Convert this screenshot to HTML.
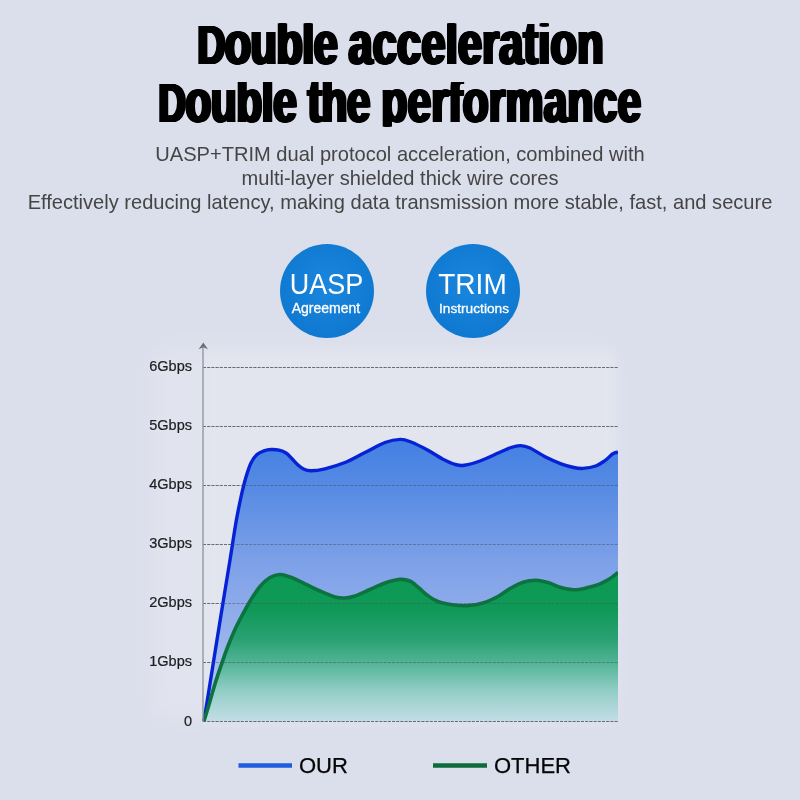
<!DOCTYPE html>
<html lang="en">
<head>
<meta charset="utf-8">
<title>Double acceleration</title>
<style>
html,body{margin:0;padding:0;}
body{width:800px;height:800px;overflow:hidden;position:relative;background:#dbdeeb;font-family:"Liberation Sans",sans-serif;}
svg{position:absolute;left:0;top:0;}
.hl{position:absolute;left:0;top:0;height:60px;font-weight:bold;font-size:61.5px;line-height:60px;color:#000;white-space:nowrap;transform-origin:0 0;clip-path:inset(11px -10px 4.5px -10px);
text-shadow:-0.8px 0 #000,0.8px 0 #000,-1.6px 0 #000,1.6px 0 #000,-2.5px 0 #000,2.5px 0 #000;}
.hl .cap{font-size:55px;}
.sub{position:absolute;left:0;width:800px;text-align:center;font-size:20.08px;line-height:24px;color:#454545;white-space:nowrap;}
</style>
</head>
<body>
<svg width="800" height="800" viewBox="0 0 800 800">
  <defs>
    <linearGradient id="gb" x1="0" y1="0" x2="0" y2="1">
      <stop offset="0" stop-color="#437fe2"/>
      <stop offset="0.2" stop-color="#5a8de4"/>
      <stop offset="0.43" stop-color="#7da0e8"/>
      <stop offset="0.71" stop-color="#98b3ec"/>
      <stop offset="1" stop-color="#c0cef2"/>
    </linearGradient>
    <linearGradient id="gg" x1="0" y1="0" x2="0" y2="1">
      <stop offset="0" stop-color="#0c9a52"/>
      <stop offset="0.25" stop-color="#0f9958"/>
      <stop offset="0.45" stop-color="#2aa173"/>
      <stop offset="0.6" stop-color="#4fb394"/>
      <stop offset="0.8" stop-color="#93cec6"/>
      <stop offset="1" stop-color="#c3dde6"/>
    </linearGradient>
    <radialGradient id="cg" cx="0.5" cy="0.45" r="0.55"><stop offset="0" stop-color="#1b86de"/><stop offset="1" stop-color="#0f79d2"/></radialGradient>
    <clipPath id="cc"><rect x="190" y="340" width="428" height="390"/></clipPath>
    <filter id="soft2" x="-10%" y="-10%" width="120%" height="120%"><feGaussianBlur stdDeviation="4"/></filter>
    <filter id="soft" x="-20%" y="-20%" width="140%" height="140%"><feGaussianBlur stdDeviation="12"/></filter>
  </defs>
  <rect x="150" y="346" width="464" height="374" fill="#e1e4ee" filter="url(#soft)"/>
  <rect x="206" y="352" width="410" height="368" fill="#e3e6ef" opacity="0.75" filter="url(#soft2)"/>


  <!-- circles -->
  <circle cx="327" cy="291" r="47" fill="url(#cg)"/>
  <circle cx="473" cy="291" r="47" fill="url(#cg)"/>
  <g font-family="'Liberation Sans',sans-serif" fill="#fff" text-anchor="middle">
    <text x="326.500" y="293.800" font-size="29.300" textLength="73.500" lengthAdjust="spacingAndGlyphs">UASP</text>
    <text x="326" y="313" font-size="14" stroke="#fff" stroke-width="0.3">Agreement</text>
    <text x="472.500" y="293.800" font-size="29.300" textLength="68.500" lengthAdjust="spacingAndGlyphs">TRIM</text>
    <text x="474" y="313" font-size="13.7" stroke="#fff" stroke-width="0.3">Instructions</text>
  </g>

  <!-- chart -->
  <g stroke="#555863" stroke-width="1.1" stroke-dasharray="3 1.2" opacity="0.62">
    <line x1="203" y1="367.5" x2="618" y2="367.5"/>
    <line x1="203" y1="426.5" x2="618" y2="426.5"/>
    <line x1="203" y1="485.5" x2="618" y2="485.5"/>
    <line x1="203" y1="544.5" x2="618" y2="544.5"/>
    <line x1="203" y1="603.5" x2="618" y2="603.5"/>
    <line x1="203" y1="662.5" x2="618" y2="662.5"/>
    <line x1="203" y1="721.5" x2="618" y2="721.5"/>
  </g>
  <path id="blue" fill="url(#gb)" d="M204.0,721.0 C205.4,712.2 209.7,685.7 212.5,668.0 C215.3,650.3 218.1,633.0 221.0,615.0 C223.9,597.0 227.5,575.7 230.0,560.0 C232.5,544.3 234.4,531.5 236.2,521.0 C238.1,510.5 239.4,504.3 241.0,497.0 C242.6,489.7 244.3,482.7 246.0,477.0 C247.7,471.3 249.2,466.8 251.0,463.0 C252.8,459.2 254.8,456.5 257.0,454.5 C259.2,452.5 261.7,451.6 264.0,450.8 C266.3,450.0 268.5,449.6 271.0,449.5 C273.5,449.4 276.5,449.6 279.0,450.2 C281.5,450.8 283.8,451.6 286.0,453.0 C288.2,454.4 290.0,456.8 292.0,458.8 C294.0,460.8 296.0,463.2 298.0,465.0 C300.0,466.8 301.8,468.3 304.0,469.3 C306.2,470.3 307.5,470.9 311.0,470.8 C314.5,470.7 319.3,470.1 325.0,468.8 C330.7,467.4 338.3,465.2 345.0,462.5 C351.7,459.8 358.3,455.8 365.0,452.5 C371.7,449.2 379.1,444.7 385.0,442.5 C390.9,440.3 396.0,439.5 400.3,439.4 C404.6,439.3 406.6,440.3 411.0,442.0 C415.4,443.7 421.8,446.9 427.0,449.7 C432.2,452.5 437.8,456.6 442.5,459.0 C447.2,461.4 451.4,463.3 455.0,464.4 C458.6,465.4 460.2,465.9 464.4,465.3 C468.6,464.7 474.3,463.1 480.0,461.0 C485.7,458.9 493.6,455.1 498.8,452.8 C503.9,450.6 507.4,448.7 511.0,447.5 C514.6,446.3 517.4,445.5 520.6,445.6 C523.8,445.7 525.8,446.1 530.0,448.0 C534.2,449.9 540.4,454.4 545.6,457.0 C550.8,459.6 556.3,462.0 561.0,463.8 C565.7,465.5 570.1,466.7 573.8,467.5 C577.4,468.3 579.4,468.6 583.0,468.4 C586.6,468.1 591.9,467.3 595.6,466.0 C599.3,464.7 602.1,462.6 605.0,460.6 C607.9,458.6 610.6,455.2 612.8,453.8 C615.0,452.3 617.1,452.3 618.0,452.0 L618,721 Z"/>
  <path fill="none" stroke="#0522d6" stroke-width="3.4" clip-path="url(#cc)" stroke-linejoin="round" d="M204.0,721.0 C205.4,712.2 209.7,685.7 212.5,668.0 C215.3,650.3 218.1,633.0 221.0,615.0 C223.9,597.0 227.5,575.7 230.0,560.0 C232.5,544.3 234.4,531.5 236.2,521.0 C238.1,510.5 239.4,504.3 241.0,497.0 C242.6,489.7 244.3,482.7 246.0,477.0 C247.7,471.3 249.2,466.8 251.0,463.0 C252.8,459.2 254.8,456.5 257.0,454.5 C259.2,452.5 261.7,451.6 264.0,450.8 C266.3,450.0 268.5,449.6 271.0,449.5 C273.5,449.4 276.5,449.6 279.0,450.2 C281.5,450.8 283.8,451.6 286.0,453.0 C288.2,454.4 290.0,456.8 292.0,458.8 C294.0,460.8 296.0,463.2 298.0,465.0 C300.0,466.8 301.8,468.3 304.0,469.3 C306.2,470.3 307.5,470.9 311.0,470.8 C314.5,470.7 319.3,470.1 325.0,468.8 C330.7,467.4 338.3,465.2 345.0,462.5 C351.7,459.8 358.3,455.8 365.0,452.5 C371.7,449.2 379.1,444.7 385.0,442.5 C390.9,440.3 396.0,439.5 400.3,439.4 C404.6,439.3 406.6,440.3 411.0,442.0 C415.4,443.7 421.8,446.9 427.0,449.7 C432.2,452.5 437.8,456.6 442.5,459.0 C447.2,461.4 451.4,463.3 455.0,464.4 C458.6,465.4 460.2,465.9 464.4,465.3 C468.6,464.7 474.3,463.1 480.0,461.0 C485.7,458.9 493.6,455.1 498.8,452.8 C503.9,450.6 507.4,448.7 511.0,447.5 C514.6,446.3 517.4,445.5 520.6,445.6 C523.8,445.7 525.8,446.1 530.0,448.0 C534.2,449.9 540.4,454.4 545.6,457.0 C550.8,459.6 556.3,462.0 561.0,463.8 C565.7,465.5 570.1,466.7 573.8,467.5 C577.4,468.3 579.4,468.6 583.0,468.4 C586.6,468.1 591.9,467.3 595.6,466.0 C599.3,464.7 602.1,462.6 605.0,460.6 C607.9,458.6 610.6,455.2 612.8,453.8 C615.0,452.3 617.1,452.3 618.0,452.0"/>
  <path fill="url(#gg)" d="M204.0,721.0 C204.8,718.4 206.8,711.8 208.8,705.3 C210.7,698.8 213.4,688.9 215.6,681.9 C217.8,674.9 219.7,669.3 221.8,663.3 C223.9,657.3 225.8,651.6 228.0,646.0 C230.2,640.4 232.9,634.1 234.9,629.6 C236.9,625.1 237.5,624.0 240.0,619.3 C242.5,614.6 246.7,606.7 250.0,601.2 C253.3,595.7 256.7,590.5 260.0,586.5 C263.3,582.5 266.7,579.5 270.0,577.5 C273.3,575.5 276.7,574.6 280.0,574.5 C283.3,574.4 285.8,575.5 290.0,577.0 C294.2,578.5 300.0,581.4 305.0,583.8 C310.0,586.1 315.0,588.8 320.0,591.0 C325.0,593.2 330.8,595.8 335.0,597.0 C339.2,598.2 341.7,598.2 345.0,598.0 C348.3,597.8 350.8,597.4 355.0,596.0 C359.2,594.6 365.0,591.7 370.0,589.5 C375.0,587.3 380.0,584.7 385.0,583.0 C390.0,581.3 395.9,579.7 400.0,579.4 C404.1,579.1 406.5,579.6 409.7,581.0 C412.9,582.4 416.1,585.7 419.0,588.0 C421.9,590.3 423.8,592.8 427.0,595.0 C430.2,597.2 433.8,599.9 438.0,601.5 C442.2,603.1 447.1,604.0 452.0,604.7 C456.9,605.4 462.3,605.9 467.5,605.6 C472.7,605.3 477.8,604.6 483.0,603.0 C488.2,601.4 494.1,598.5 498.8,596.0 C503.4,593.5 506.8,590.3 511.0,588.0 C515.2,585.7 519.6,583.3 523.8,582.0 C527.9,580.7 531.8,580.2 536.0,580.3 C540.2,580.4 544.6,581.6 548.8,582.8 C552.9,584.0 556.8,586.4 561.0,587.5 C565.2,588.6 569.6,589.6 573.8,589.7 C577.9,589.8 581.8,588.9 586.0,588.0 C590.2,587.1 594.8,585.9 598.8,584.4 C602.7,582.9 606.5,580.7 609.7,578.8 C612.9,576.8 616.6,573.5 618.0,572.5 L618,721 Z"/>
  <path fill="none" stroke="#0c7340" stroke-width="3.6" clip-path="url(#cc)" stroke-linejoin="round" d="M204.0,721.0 C204.8,718.4 206.8,711.8 208.8,705.3 C210.7,698.8 213.4,688.9 215.6,681.9 C217.8,674.9 219.7,669.3 221.8,663.3 C223.9,657.3 225.8,651.6 228.0,646.0 C230.2,640.4 232.9,634.1 234.9,629.6 C236.9,625.1 237.5,624.0 240.0,619.3 C242.5,614.6 246.7,606.7 250.0,601.2 C253.3,595.7 256.7,590.5 260.0,586.5 C263.3,582.5 266.7,579.5 270.0,577.5 C273.3,575.5 276.7,574.6 280.0,574.5 C283.3,574.4 285.8,575.5 290.0,577.0 C294.2,578.5 300.0,581.4 305.0,583.8 C310.0,586.1 315.0,588.8 320.0,591.0 C325.0,593.2 330.8,595.8 335.0,597.0 C339.2,598.2 341.7,598.2 345.0,598.0 C348.3,597.8 350.8,597.4 355.0,596.0 C359.2,594.6 365.0,591.7 370.0,589.5 C375.0,587.3 380.0,584.7 385.0,583.0 C390.0,581.3 395.9,579.7 400.0,579.4 C404.1,579.1 406.5,579.6 409.7,581.0 C412.9,582.4 416.1,585.7 419.0,588.0 C421.9,590.3 423.8,592.8 427.0,595.0 C430.2,597.2 433.8,599.9 438.0,601.5 C442.2,603.1 447.1,604.0 452.0,604.7 C456.9,605.4 462.3,605.9 467.5,605.6 C472.7,605.3 477.8,604.6 483.0,603.0 C488.2,601.4 494.1,598.5 498.8,596.0 C503.4,593.5 506.8,590.3 511.0,588.0 C515.2,585.7 519.6,583.3 523.8,582.0 C527.9,580.7 531.8,580.2 536.0,580.3 C540.2,580.4 544.6,581.6 548.8,582.8 C552.9,584.0 556.8,586.4 561.0,587.5 C565.2,588.6 569.6,589.6 573.8,589.7 C577.9,589.8 581.8,588.9 586.0,588.0 C590.2,587.1 594.8,585.9 598.8,584.4 C602.7,582.9 606.5,580.7 609.7,578.8 C612.9,576.8 616.6,573.5 618.0,572.5"/>

  <!-- grid overlay -->
  <g stroke="#4a4d58" stroke-width="1.1" stroke-dasharray="3 1.2" opacity="0.5">
    <line x1="203" y1="367.5" x2="618" y2="367.5"/>
    <line x1="203" y1="426.5" x2="618" y2="426.5"/>
    <line x1="203" y1="485.5" x2="618" y2="485.5"/>
    <line x1="203" y1="544.5" x2="618" y2="544.5"/>
    <line x1="203" y1="603.5" x2="618" y2="603.5"/>
    <line x1="203" y1="662.5" x2="618" y2="662.5"/>
    <line x1="203" y1="721.5" x2="618" y2="721.5"/>
  </g>
  <line x1="203" y1="346" x2="203" y2="722" stroke="#8e919c" stroke-width="1.3"/>
  <path d="M203.300,342.500 L208,349.200 L203.300,347.300 L198.600,349.200 Z" fill="#6c6f7a"/>

  <g font-family="'Liberation Sans',sans-serif" font-size="14.5" fill="#1e1e22" stroke="#1e1e22" stroke-width="0.22" text-anchor="end">
    <text x="192" y="370.500">6Gbps</text>
    <text x="192" y="429.500">5Gbps</text>
    <text x="192" y="488.500">4Gbps</text>
    <text x="192" y="547.500">3Gbps</text>
    <text x="192" y="606.500">2Gbps</text>
    <text x="192" y="665.500">1Gbps</text>
    <text x="192" y="725.500">0</text>
  </g>

  <!-- legend -->
  <rect x="238.500" y="763.250" width="53.500" height="4.500" fill="#1f5ce0"/>
  <rect x="433" y="763.250" width="54" height="4.500" fill="#0e6b3c"/>
  <g font-family="'Liberation Sans',sans-serif" font-size="22" fill="#050505" stroke="#050505" stroke-width="0.25">
    <text x="299" y="772.500">OUR</text>
    <text x="494" y="772.500">OTHER</text>
  </g>
</svg>
<div class="hl" id="h1" style="transform:translate(197.5px,12.5px) scaleX(0.7007);"><span style="letter-spacing:-0.75px"><span class="cap">D</span>ouble </span><span style="letter-spacing:0.45px">acceleration</span></div>
<div class="hl" id="h2" style="transform:translate(158.5px,71px) scaleX(0.6873);"><span style="letter-spacing:-0.53px"><span class="cap">D</span>ouble the </span><span style="letter-spacing:0.53px">performance</span></div>
<div class="sub" style="top:142px">UASP+TRIM dual protocol acceleration, combined with</div>
<div class="sub" style="top:166px">multi-layer shielded thick wire cores</div>
<div class="sub" style="top:190px">Effectively reducing latency, making data transmission more stable, fast, and secure</div>
</body>
</html>
